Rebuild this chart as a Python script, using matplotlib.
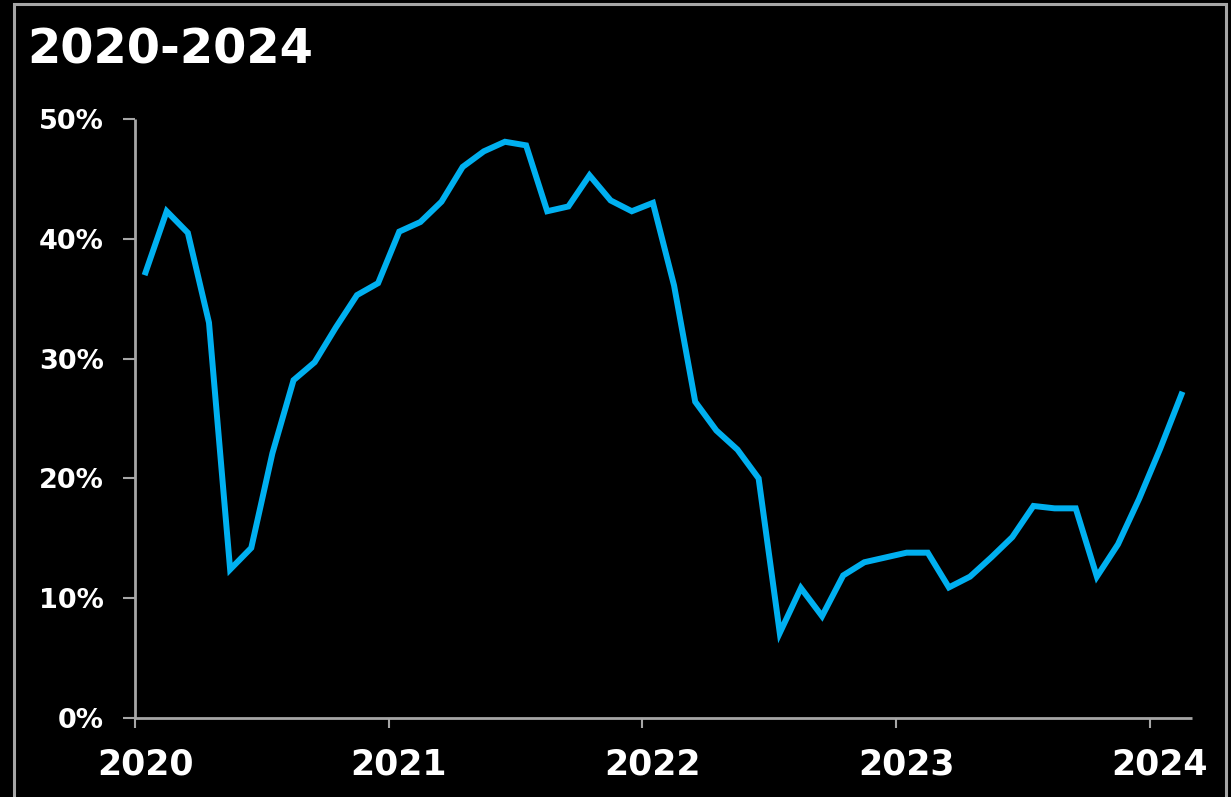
import numpy as np
import matplotlib
matplotlib.use('Agg')
import matplotlib.pyplot as plt
import matplotlib.transforms as mtransforms
from matplotlib.patches import Rectangle

# monthly share, Jan 2020 .. Feb 2024 (percent)
months = np.arange(50)
share = [37.2, 42.3, 40.5, 33.0, 12.4, 14.2, 22.1, 28.2, 29.7, 32.6,
         35.3, 36.3, 40.6, 41.4, 43.1, 46.0, 47.3, 48.1, 47.8, 42.3,
         42.7, 45.3, 43.2, 42.3, 43.0, 36.1, 26.4, 24.0, 22.4, 20.0,
         7.1, 10.85, 8.5, 11.9, 13.0, 13.4, 13.8, 13.8, 10.9, 11.8,
         13.4, 15.1, 17.7, 17.5, 17.5, 11.8, 14.5, 18.3, 22.5, 27.0]
year_labels = ['2020', '2021', '2022', '2023', '2024']
pct_ticks = [0, 10, 20, 30, 40, 50]
title = '2020-2024'

line_color = '#00B0F0'
axis_color = '#A6A6A6'

plt.rcParams['font.family'] = ['DejaVu Sans']

fig = plt.figure(figsize=(12.31, 7.97), dpi=100, facecolor='black')
ax = fig.add_axes([135/1231, 79/797, (1192-135)/1231, (718-119)/797])
ax.set_facecolor('black')

# points sit in the middle of each month
ax.plot(months + 0.5, share, color=line_color, lw=4.3, solid_joinstyle='miter')

ax.set_xlim(0, 50)
ax.set_ylim(0, 50)
ax.set_xticks([0, 12, 24, 36, 48])
ax.set_xticklabels(year_labels)
ax.set_yticks(pct_ticks)
ax.set_yticklabels([f'{v}%' for v in pct_ticks])

for side in ['top', 'right']:
    ax.spines[side].set_visible(False)
for side in ['left', 'bottom']:
    ax.spines[side].set_color(axis_color)
    ax.spines[side].set_linewidth(2)
    ax.spines[side].set_capstyle('butt')

ax.tick_params(axis='x', direction='out', length=7, width=1.5, color=axis_color,
               labelcolor='white', labelsize=25, pad=14)
ax.tick_params(axis='y', direction='out', length=8.5, width=1.5, color=axis_color,
               labelcolor='white', labelsize=19.5, pad=14)
for lab in ax.get_yticklabels():
    lab.set_fontweight('bold')

# year labels sit a little right of their ticks
shift = mtransforms.ScaledTranslation(0.10, 0, fig.dpi_scale_trans)
for lab in ax.get_xticklabels():
    lab.set_fontweight('bold')
    lab.set_transform(lab.get_transform() + shift)

fig.text(27/1231, 1 - 63/797, title, color='white', fontsize=34.5,
         fontweight='bold', ha='left', va='baseline')

# outer frame, open at the bottom edge
frame = Rectangle((14/1231, -0.05), (1226-14)/1231, 1.05 - 4/797,
                  transform=fig.transFigure, fill=False,
                  edgecolor=axis_color, lw=2.2)
fig.patches.append(frame)

fig.savefig('out.png', dpi=100, facecolor='black')
